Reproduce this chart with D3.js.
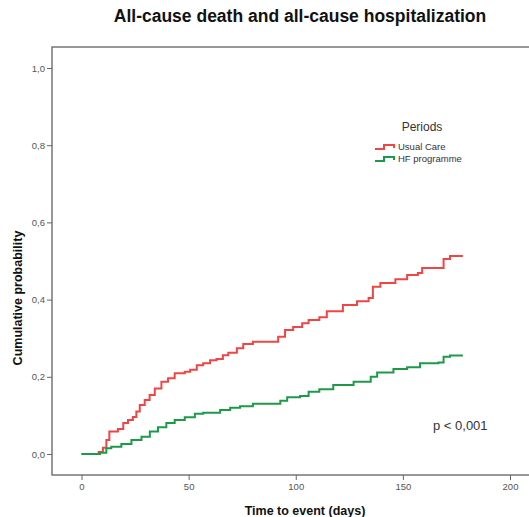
<!DOCTYPE html>
<html lang="en">
<head>
    <meta charset="UTF-8">
    <title>All-cause death and all-cause hospitalization</title>
    <script src="https://d3js.org/d3.v7.min.js"></script>
    <style>
        body {
            margin: 0;
            background-color: #fff;
            font-family: "Liberation Sans", Arial, sans-serif;
        }

        .tick text {
            font-size: 9.5px;
            fill: #555;
        }

        .tick line {
            stroke: #666;
        }

        .curve {
            fill: none;
            stroke-width: 2px;
        }
    </style>
</head>
<body>
    <script>
        // Kaplan-Meier style cumulative probability
        const usualCareDays = [0, 8, 10, 11.6, 13, 17, 19.5, 21.7, 24, 25.6, 27.2, 29.5, 31.8, 34.2, 37.3, 40.4, 43.5, 48.2, 50.7, 53.8, 56.8, 60, 63, 66, 68.5, 72.5, 75.5, 80, 89.5, 91.8, 95, 98.8, 103, 106, 111, 114.5, 122, 128.6, 134, 136, 139.5, 145, 146.5, 152, 157, 159, 166.6, 169, 172, 178];
        const usualCareProb = [0, 0.005, 0.016, 0.036, 0.058, 0.065, 0.08, 0.088, 0.096, 0.11, 0.127, 0.14, 0.153, 0.17, 0.187, 0.196, 0.209, 0.213, 0.218, 0.23, 0.235, 0.243, 0.246, 0.256, 0.262, 0.274, 0.285, 0.291, 0.291, 0.304, 0.321, 0.329, 0.339, 0.347, 0.354, 0.37, 0.386, 0.396, 0.404, 0.433, 0.443, 0.443, 0.453, 0.464, 0.469, 0.482, 0.482, 0.505, 0.513, 0.513];

        const hfDays = [0, 8.6, 11.6, 13.9, 18.6, 23.3, 28, 31.9, 35.7, 39.6, 43.5, 48.2, 52.9, 56.8, 64.7, 69.4, 74, 80, 89.5, 92.8, 96, 102, 106, 111, 117.5, 127, 135, 138, 145.6, 152, 158, 166.6, 169, 172, 178];
        const hfProb = [0, 0.003, 0.015, 0.019, 0.026, 0.036, 0.045, 0.058, 0.069, 0.08, 0.088, 0.095, 0.104, 0.107, 0.114, 0.12, 0.124, 0.13, 0.13, 0.138, 0.147, 0.15, 0.161, 0.168, 0.179, 0.187, 0.2, 0.211, 0.22, 0.225, 0.235, 0.237, 0.252, 0.255, 0.255];

        const periods = ["Usual Care", "HF programme"];
        const colors = ["#f04545", "#1c9a4a"];
        const xTicks = [0, 50, 100, 150, 200];
        const yTicks = [0, 0.2, 0.4, 0.6, 0.8, 1.0];

        const width = 529;
        const height = 517;

        const svg = d3.select("body").append("svg")
            .attr("width", width)
            .attr("height", height);

        const x = d3.scaleLinear().domain([0, 200]).range([81.5, 510]);
        const y = d3.scaleLinear().domain([0, 1]).range([454, 68]);

        const frameLeft = 52, frameTop = 47, frameBottom = 475;

        // title
        svg.append("text")
            .attr("x", 300)
            .attr("y", 22)
            .attr("text-anchor", "middle")
            .style("font-size", "17.5px")
            .style("font-weight", "bold")
            .attr("fill", "#111")
            .text("All-cause death and all-cause hospitalization");

        // frame (right side is cut off in the original)
        svg.append("path")
            .attr("d", `M${width},${frameTop}H${frameLeft}V${frameBottom}H${width}`)
            .attr("fill", "none")
            .attr("stroke", "#777")
            .attr("stroke-width", 1.5);

        const comma = d => d3.format(".1f")(d).replace(".", ",");

        svg.append("g")
            .attr("transform", `translate(${frameLeft},0)`)
            .call(d3.axisLeft(y).tickValues(yTicks).tickSize(5).tickPadding(2).tickFormat(comma))
            .call(g => g.select(".domain").remove())
            .selectAll("text").style("font-family", "Liberation Sans, Arial, sans-serif");

        svg.append("g")
            .attr("transform", `translate(0,${frameBottom})`)
            .call(d3.axisBottom(x).tickValues(xTicks).tickSize(5).tickPadding(3))
            .call(g => g.select(".domain").remove())
            .selectAll("text").style("font-family", "Liberation Sans, Arial, sans-serif");

        // axis titles
        svg.append("text")
            .attr("x", 305)
            .attr("y", 515)
            .attr("text-anchor", "middle")
            .style("font-size", "12.5px")
            .style("font-weight", "bold")
            .attr("fill", "#111")
            .text("Time to event (days)");

        svg.append("text")
            .attr("transform", "translate(22,298) rotate(-90)")
            .attr("text-anchor", "middle")
            .style("font-size", "12.5px")
            .style("font-weight", "bold")
            .attr("fill", "#111")
            .text("Cumulative probability");

        // step curves
        const line = d3.line()
            .x(d => x(d[0]))
            .y(d => y(d[1]))
            .curve(d3.curveStepAfter);

        const series = [
            d3.zip(usualCareDays, usualCareProb),
            d3.zip(hfDays, hfProb)
        ];

        svg.selectAll(".curve")
            .data(series)
            .enter().append("path")
            .attr("class", "curve")
            .attr("stroke", (d, i) => colors[i])
            .attr("d", line);

        // legend
        const legend = svg.append("g").attr("transform", "translate(375,0)");

        legend.append("text")
            .attr("x", 47)
            .attr("y", 131)
            .attr("text-anchor", "middle")
            .style("font-size", "12px")
            .attr("fill", "#333")
            .text("Periods");

        periods.forEach((p, i) => {
            const ly = 147 + i * 12;
            legend.append("path")
                .attr("d", `M0,${ly + 2}H9V${ly - 2}H19V${ly + 1}`)
                .attr("fill", "none")
                .attr("stroke", colors[i])
                .attr("stroke-width", 2);
            legend.append("text")
                .attr("x", 23)
                .attr("y", ly + 3)
                .style("font-size", "9.5px")
                .attr("fill", "#333")
                .text(p);
        });

        // p-value
        svg.append("text")
            .attr("x", 433)
            .attr("y", 430)
            .style("font-size", "13px")
            .attr("fill", "#333")
            .text("p < 0,001");
    </script>
</body>
</html>
